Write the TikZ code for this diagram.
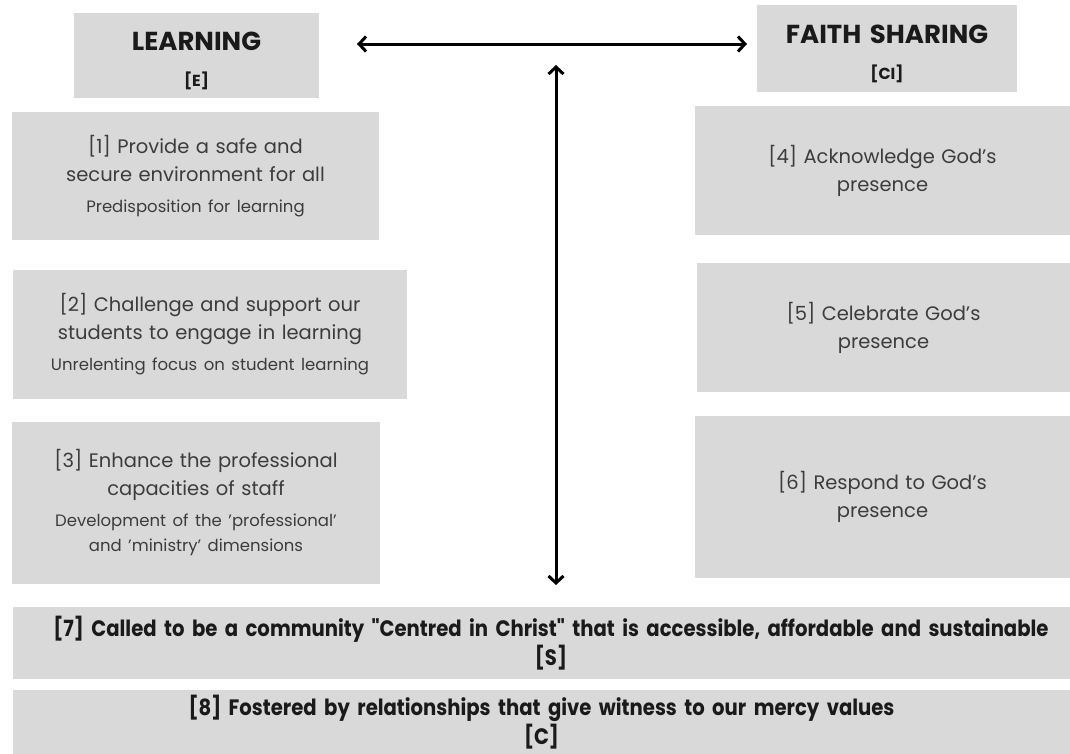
\documentclass[tikz,border=0pt]{standalone}
\usepackage{fontspec}
\usepackage{tikz}
\setmainfont{Poppins}
\newfontfamily\narrowfont[FakeStretch=0.88]{Poppins}
\usetikzlibrary{arrows.meta}
\definecolor{boxgrey}{HTML}{D9D9D9}
\definecolor{bodygrey}{HTML}{3C3C3C}
\definecolor{headblack}{HTML}{1A1A1A}
\newcommand{\subtext}[1]{\par\vspace{6pt}{\fontsize{16.5}{25}\selectfont #1\par}}

\begin{document}
\begin{tikzpicture}[x=1pt,y=-1pt]
        \tikzstyle{box node}=[fill=boxgrey,inner sep=0pt,align=center,text=bodygrey,font=\fontsize{19.5}{28}\selectfont]
        \tikzstyle{head node}=[box node,text=headblack,font=\bfseries\fontsize{26}{36}\selectfont]
        \tikzstyle{base node}=[box node,text=headblack,font=\narrowfont\bfseries\fontsize{22.3}{29}\selectfont]
        \tikzstyle{arrow line}=[line width=3pt,>={Straight Barb[length=7pt,width=15pt]}]
        \useasboundingbox (0,0) rectangle (1070,753);

        \node[head node,minimum width=245pt,minimum height=85pt,text width=240pt] (learn) at (196.5,55.5) {\rule{0pt}{30pt}LEARNING\par{\fontsize{16}{22}\selectfont [E]}};
        \node[head node,minimum width=260pt,minimum height=87pt,text width=255pt] (faith) at (887,48.5) {\rule{0pt}{30pt}FAITH SHARING\par{\fontsize{16}{22}\selectfont [CI]}};

        \node[box node,minimum width=367pt,minimum height=128pt,text width=360pt] (l1) at (195.5,176) {[1] Provide a safe and\\secure environment for all\subtext{Predisposition for learning}};
        \node[box node,minimum width=394pt,minimum height=129pt,text width=390pt] (l2) at (210,334.5) {[2] Challenge and support our\\students to engage in learning\subtext{Unrelenting focus on student learning}};
        \node[box node,minimum width=368pt,minimum height=162pt,text width=360pt] (l3) at (196,503) {[3] Enhance the professional\\capacities of staff\subtext{Development of the 'professional'\\and 'ministry' dimensions}};

        \node[box node,minimum width=375pt,minimum height=129pt,text width=320pt] (f4) at (882.5,170.5) {[4] Acknowledge God's\\presence};
        \node[box node,minimum width=373pt,minimum height=129pt,text width=320pt] (f5) at (883.5,327.5) {[5] Celebrate God's\\presence};
        \node[box node,minimum width=375pt,minimum height=162pt,text width=320pt] (f6) at (882.5,497) {[6] Respond to God's\\presence};

        \node[base node,minimum width=1076pt,minimum height=72pt,text width=1070pt] (s7) at (551,643) {[7] Called to be a community "Centred in Christ" that is accessible, affordable and sustainable\\{}[S]};
        \node[base node,minimum width=1057pt,minimum height=64pt,text width=1040pt] (c8) at (541.5,722) {[8] Fostered by relationships that give witness to our mercy values\\{}[C]};

        \coordinate (hl) at (357,44);
        \coordinate (hr) at (747,44);
        \coordinate (vt) at (556,65);
        \coordinate (vb) at (556,585);
        \draw[arrow line,<->] (hl) -- (hr);
        \draw[arrow line,<->] (vt) -- (vb);
    \end{tikzpicture}
\end{document}
